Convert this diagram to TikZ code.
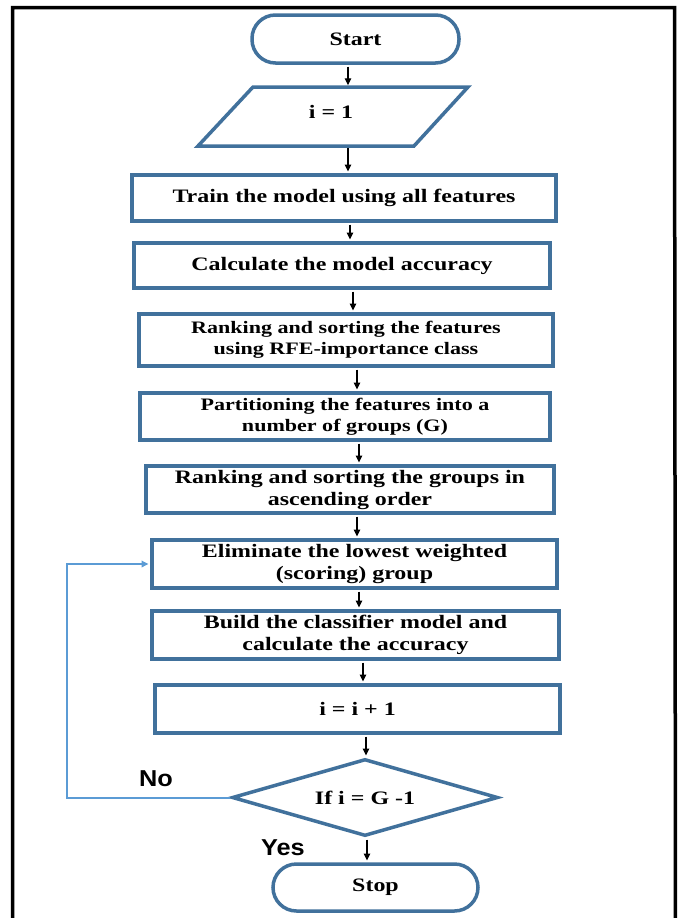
\documentclass[tikz,border=0pt]{standalone}
\usepackage{fontspec}
\setmainfont{Liberation Serif}[FakeStretch=1.26]
\newfontfamily\lblfont{Liberation Sans}[FakeStretch=1.1]
\usetikzlibrary{arrows.meta,shapes.geometric}
\definecolor{boxblue}{RGB}{65,113,156}
\definecolor{loopblue}{RGB}{91,155,213}
\begin{document}
\begin{tikzpicture}[x=1pt,y=-1pt,
  box/.style={draw=boxblue,line width=3.5pt,fill=white,rectangle,inner sep=0pt,align=center,
    font=\bfseries\fontsize{19}{22}\selectfont},
  smallbox/.style={box,font=\bfseries\fontsize{17.5}{21}\selectfont},
  term/.style={box,rounded corners=23.5pt},
  decision/.style={diamond,draw=boxblue,line width=3.5pt,fill=white,inner sep=0pt,aspect=3.45,
    font=\bfseries\fontsize{19}{22}\selectfont},
  arr/.style={draw=black,line width=1.2pt,-{Triangle[length=7pt,width=6.5pt]},shorten >=1.75pt,shorten <=1.75pt},
  loopline/.style={draw=loopblue,line width=2pt,-{Triangle[length=7pt,width=6.5pt]},shorten >=1.75pt},
  lbl/.style={font=\lblfont\bfseries\fontsize{23}{26}\selectfont,inner sep=0pt}]
\useasboundingbox (0,0) rectangle (680,918);
\begin{scope}
\clip (0,0) rectangle (680,918);
\draw[line width=3.5pt,line join=miter] (12.5,960) -- (12.5,7.5) -- (674.5,7.5) -- (675.5,960);
\end{scope}
% nodes
\node[term,minimum width=207pt,minimum height=48pt] (start) at (355.5,39) {Start};
\draw[draw=boxblue,line width=3.5pt,fill=white] (253,87) -- (468,87) -- (414,146) -- (198,146) -- cycle;
\node[font=\bfseries\fontsize{19}{22}\selectfont,inner sep=0pt] (para) at (331,112) {i = 1};
\coordinate (ptop) at (348,87);
\coordinate (pbot) at (348,146);
\node[box,minimum width=424pt,minimum height=46pt] (train) at (344,198) {Train the model using all features};
\node[box,minimum width=416pt,minimum height=45pt] (calc) at (342,265.5) {Calculate the model accuracy};
\node[smallbox,minimum width=414pt,minimum height=52pt] (rank) at (346,340) {Ranking and sorting the features\\using RFE-importance class};
\node[smallbox,minimum width=410pt,minimum height=47pt] (part) at (345,416.5) {Partitioning the features into a\\number of groups (G)};
\node[box,minimum width=408pt,minimum height=47pt] (groups) at (350,489.5) {Ranking and sorting the groups in\\ascending order};
\node[box,minimum width=405pt,minimum height=48pt] (elim) at (354.5,564) {Eliminate the lowest weighted\\(scoring) group};
\node[box,minimum width=407pt,minimum height=48pt] (build) at (355.5,635) {Build the classifier model and\\calculate the accuracy};
\node[box,minimum width=405pt,minimum height=48pt] (inc) at (357.5,709) {i = i + 1};
\node[decision,minimum width=266pt,minimum height=77pt] (dia) at (365,797.5) {If i = G -1};
\node[term,minimum width=205pt,minimum height=47pt] (stop) at (375.5,887.5) {Stop};
\coordinate (lc) at (67,0);
% connectors
\draw[arr] (start.south -| ptop) -- (ptop);
\draw[arr] (pbot) -- (pbot |- train.north);
\draw[arr] ([xshift=6pt]train.south) -- ([xshift=6pt]train.south |- calc.north);
\draw[arr] ([xshift=11pt]calc.south) -- ([xshift=11pt]calc.south |- rank.north);
\draw[arr] ([xshift=11pt]rank.south) -- ([xshift=11pt]rank.south |- part.north);
\draw[arr] ([xshift=14pt]part.south) -- ([xshift=14pt]part.south |- groups.north);
\draw[arr] ([xshift=7pt]groups.south) -- ([xshift=7pt]groups.south |- elim.north);
\draw[arr] ([xshift=4.5pt]elim.south) -- ([xshift=4.5pt]elim.south |- build.north);
\draw[arr] ([xshift=7.5pt]build.south) -- ([xshift=7.5pt]build.south |- inc.north);
\draw[arr] ([xshift=8.5pt]inc.south) -- ([xshift=8.5pt]inc.south |- dia.north);
\draw[arr] ([xshift=2pt]dia.south) -- ([xshift=2pt]dia.south |- stop.north);
\draw[loopline] (dia.west) -- (dia.west -| lc) -- (lc |- elim.west) -- (elim.west);
% labels
\node[lbl] (no) at (156,779) {No};
\node[lbl] (yes) at (283,848) {Yes};
\end{tikzpicture}
\end{document}
